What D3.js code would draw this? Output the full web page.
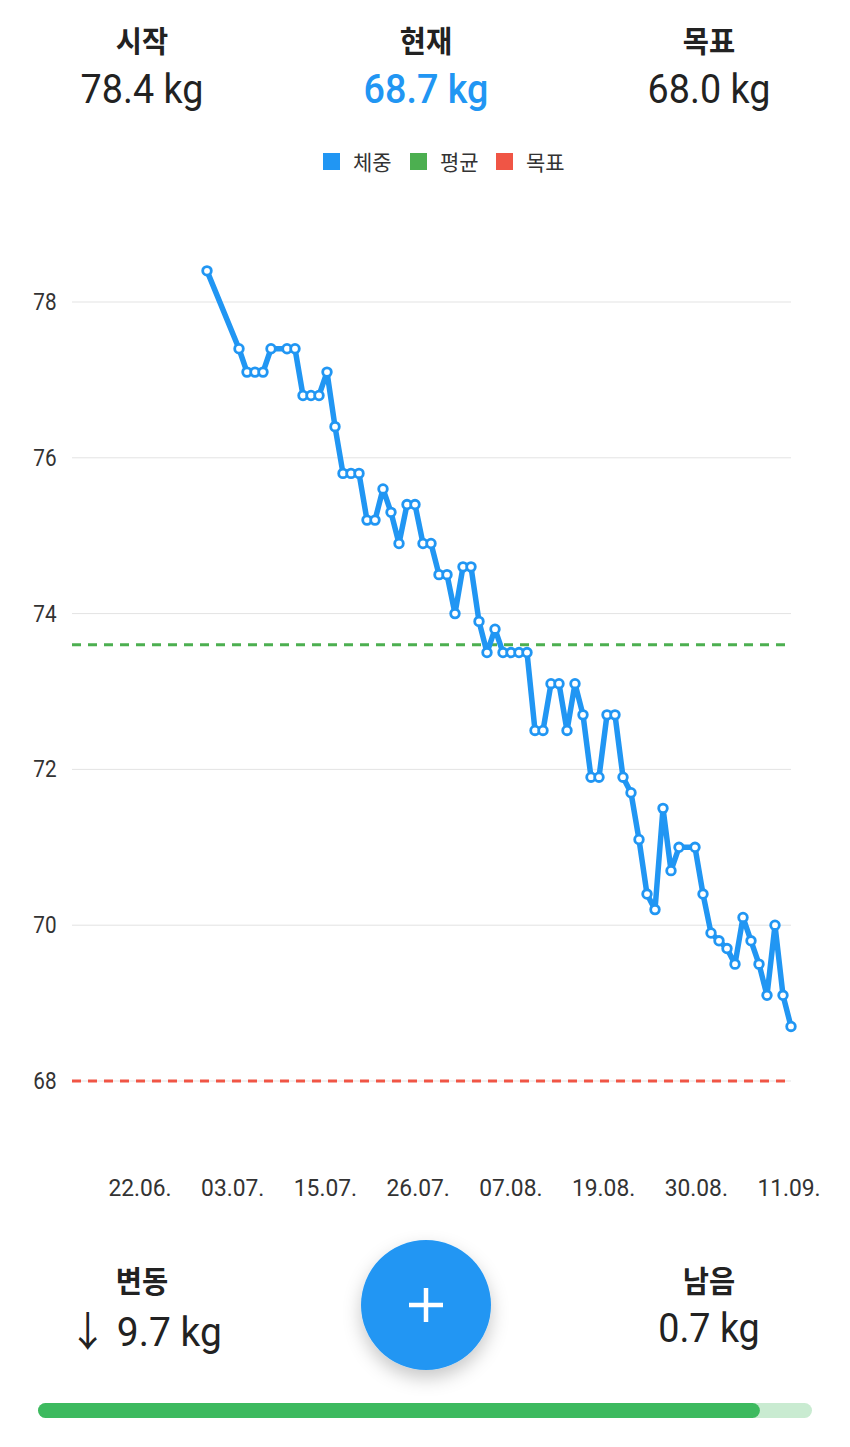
<!DOCTYPE html>
<html>
<head>
<meta charset="utf-8">
<script src="https://cdn.jsdelivr.net/npm/d3@7"></script>
<style>
  body { margin: 0; background: #fff; }
  svg { display: block; font-family: Roboto, "Noto Sans CJK KR", sans-serif; }
</style>
</head>
<body>
<svg id="chart" width="850" height="1447"></svg>
<script>
// Weigh-ins (mm-dd, 2019) and weights in kg
const dates = [
  "06-30","07-04","07-05","07-06","07-07","07-08","07-10","07-11","07-12","07-13",
  "07-14","07-15","07-16","07-17","07-18","07-19","07-20","07-21","07-22","07-23",
  "07-24","07-25","07-26","07-27","07-28","07-29","07-30","07-31","08-01","08-02",
  "08-03","08-04","08-05","08-06","08-07","08-08","08-09","08-10","08-11","08-12",
  "08-13","08-14","08-15","08-16","08-17","08-18","08-19","08-20","08-21","08-22",
  "08-23","08-24","08-25","08-26","08-27","08-28","08-30","08-31","09-01","09-02",
  "09-03","09-04","09-05","09-06","09-07","09-08","09-09","09-10","09-11"
];
const weights = [
  78.4, 77.4, 77.1, 77.1, 77.1, 77.4, 77.4, 77.4, 76.8, 76.8,
  76.8, 77.1, 76.4, 75.8, 75.8, 75.8, 75.2, 75.2, 75.6, 75.3,
  74.9, 75.4, 75.4, 74.9, 74.9, 74.5, 74.5, 74.0, 74.6, 74.6,
  73.9, 73.5, 73.8, 73.5, 73.5, 73.5, 73.5, 72.5, 72.5, 73.1,
  73.1, 72.5, 73.1, 72.7, 71.9, 71.9, 72.7, 72.7, 71.9, 71.7,
  71.1, 70.4, 70.2, 71.5, 70.7, 71.0, 71.0, 70.4, 69.9, 69.8,
  69.7, 69.5, 70.1, 69.8, 69.5, 69.1, 70.0, 69.1, 68.7
];
const goalWeight = 68.0;
const avgWeight = 73.6;
const yTicks = [68, 70, 72, 74, 76, 78];
const xTickDates = ["06-22", "07-03", "07-15", "07-26", "08-07", "08-19", "08-30", "09-11"];
const xTickLabels = ["22.06.", "03.07.", "15.07.", "26.07.", "07.08.", "19.08.", "30.08.", "11.09."];
const legendLabels = ["체중", "평균", "목표"];

const BLUE = "#2196f3", GREEN = "#4caf50", RED = "#f05545";
const parse = s => d3.timeParse("%Y-%m-%d")("2019-" + s);
const data = dates.map((d, i) => ({ date: parse(d), w: weights[i] }));

const svg = d3.select("#chart");

// narrow, tall text like the phone font
function label(x, y, txt, size, opts = {}) {
  return svg.append("text")
    .attr("transform", `translate(${x},${y}) scale(${opts.sx || 1},1)`)
    .attr("text-anchor", opts.anchor || "middle")
    .attr("font-size", size).attr("font-weight", opts.weight || 400)
    .attr("fill", opts.color || "#222").text(txt);
}

// Header stats
const startW = weights[0], curW = weights[weights.length - 1];
const header = [
  { label: "시작", value: startW.toFixed(1) + " kg", x: 142, color: "#222" },
  { label: "현재", value: curW.toFixed(1) + " kg", x: 426, color: BLUE },
  { label: "목표", value: goalWeight.toFixed(1) + " kg", x: 709, color: "#222" }
];
header.forEach(h => {
  label(h.x, 52, h.label, 30, { weight: 700, sx: 0.95 });
  label(h.x, 103, h.value, 41, { sx: 0.92, color: h.color, weight: h.color === BLUE ? 500 : 400 });
});

// Legend
const legendX = [323, 410, 496];
const legendColors = [BLUE, GREEN, RED];
legendLabels.forEach((l, i) => {
  svg.append("rect").attr("x", legendX[i]).attr("y", 153).attr("width", 17).attr("height", 17)
    .attr("fill", legendColors[i]);
  svg.append("text").attr("x", legendX[i] + 30).attr("y", 170).attr("font-size", 21)
    .attr("fill", "#333").text(l);
});

// Scales
const x = d3.scaleTime().domain(d3.extent(data, d => d.date)).range([207, 791]);
const y = d3.scaleLinear().domain([68, 78]).range([1081, 302]);
const plotLeft = 72, plotRight = 791;
const xt = d3.scalePoint().domain(xTickLabels)
  .range([x(parse(xTickDates[0])) - 3, x(parse(xTickDates[xTickDates.length - 1])) - 2]);

// Grid + y labels
const g = svg.append("g");
g.selectAll(".grid").data(yTicks).enter().append("line")
  .attr("x1", plotLeft).attr("x2", plotRight)
  .attr("y1", d => y(d)).attr("y2", d => y(d))
  .attr("stroke", "#e3e3e3").attr("stroke-width", 1);
yTicks.forEach(d => label(45, y(d) + 8, d, 23, { sx: 0.9, color: "#333" }));

// X labels
xTickLabels.forEach(d => label(xt(d), 1196, d, 24, { sx: 0.95, color: "#333" }));

// Average + goal lines
[[avgWeight, GREEN], [goalWeight, RED]].forEach(([v, c]) => {
  g.append("line").attr("x1", plotLeft).attr("x2", 786)
    .attr("y1", y(v)).attr("y2", y(v))
    .attr("stroke", c).attr("stroke-width", 3).attr("stroke-dasharray", "9,7");
});

// Weight line
const line = d3.line().x(d => x(d.date)).y(d => y(d.w));
g.append("path").datum(data).attr("d", line)
  .attr("fill", "none").attr("stroke", BLUE).attr("stroke-width", 5.5)
  .attr("stroke-linejoin", "round").attr("stroke-linecap", "round");
g.selectAll(".pt").data(data).enter().append("circle")
  .attr("cx", d => x(d.date)).attr("cy", d => y(d.w)).attr("r", 4.3)
  .attr("fill", "#fff").attr("stroke", BLUE).attr("stroke-width", 2.8);

// Footer stats
const lost = startW - curW, remain = curW - goalWeight;
label(142, 1292, "변동", 30, { weight: 700, sx: 0.95 });
label(145, 1346, "↓ " + lost.toFixed(1) + " kg", 41, { sx: 0.95 });
label(709, 1292, "남음", 30, { weight: 700, sx: 0.95 });
label(709, 1342, remain.toFixed(1) + " kg", 41, { sx: 0.92 });

// FAB
const defs = svg.append("defs");
const f = defs.append("filter").attr("id", "shadow").attr("x", "-50%").attr("y", "-50%")
  .attr("width", "200%").attr("height", "200%");
f.append("feDropShadow").attr("dx", 0).attr("dy", 8).attr("stdDeviation", 9)
  .attr("flood-color", "#000").attr("flood-opacity", 0.22);
svg.append("circle").attr("cx", 426).attr("cy", 1305).attr("r", 65)
  .attr("fill", BLUE).attr("filter", "url(#shadow)");
svg.append("path").attr("d", "M426,1288V1322M409,1305H443")
  .attr("stroke", "#fff").attr("stroke-width", 4.5);

// Progress bar
const prog = d3.scaleLinear().domain([0, 1]).range([38, 812]);
const frac = lost / (startW - goalWeight);
svg.append("rect").attr("x", prog(0)).attr("y", 1403).attr("width", prog(1) - prog(0))
  .attr("height", 15).attr("rx", 7.5).attr("fill", "#c9ebd1");
svg.append("rect").attr("x", prog(0)).attr("y", 1403).attr("width", prog(frac) - prog(0))
  .attr("height", 15).attr("rx", 7.5).attr("fill", "#3dba5f");
</script>
</body>
</html>
